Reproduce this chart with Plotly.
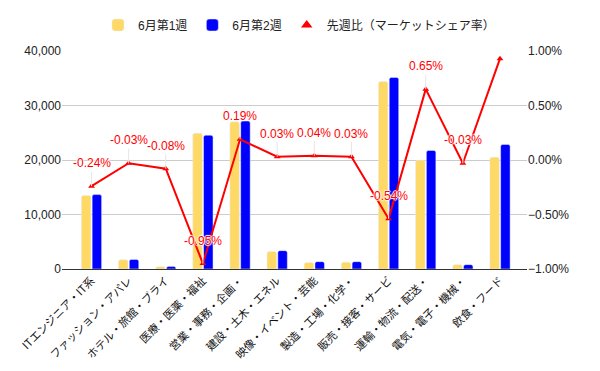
import plotly.graph_objects as go

categories = ["ITエンジニア・IT系", "ファッション・アパレ", "ホテル・旅館・ブライ", "医療・医薬・福祉",
              "営業・事務・企画・", "建設・土木・エネル", "映像・イベント・芸能", "製造・工場・化学・",
              "販売・接客・サービ", "運輸・物流・配送・", "電気・電子・機械・", "飲食・フード"]
week1 = [13500, 1700, 430, 24900, 27000, 3200, 1170, 1230, 34400, 19950, 800, 20500]
week2 = [13650, 1750, 480, 24550, 27150, 3370, 1350, 1350, 35150, 21750, 800, 22850]
share_change = [-0.24, -0.03, -0.08, -0.95, 0.19, 0.03, 0.04, 0.03, -0.54, 0.65, -0.03, 0.93]
label_shown = [True] * 11 + [False]

YELLOW = "#FFD966"
BLUE = "#0000FF"
RED = "#FF0000"
FONT = "Arial, Liberation Sans, Noto Sans CJK JP, sans-serif"
HALO = "1px 0 1px white, -1px 0 1px white, 0 1px 1px white, 0 -1px 1px white"

# page body adds an 8px margin; figure is sized/offset to compensate
W, H = 592, 363

fig = go.Figure()
fig.add_trace(go.Bar(x=categories, y=week1, name="6月第1週", marker_color=YELLOW, yaxis="y"))
fig.add_trace(go.Bar(x=categories, y=week2, name="6月第2週", marker_color=BLUE, yaxis="y"))
fig.add_trace(go.Scatter(x=categories, y=[v / 100 for v in share_change], yaxis="y2",
                         mode="lines+markers", line=dict(color=RED, width=2),
                         marker=dict(symbol="triangle-up", size=6, color=RED),
                         name="先週比（マーケットシェア率）", showlegend=False))
fig.add_trace(go.Scatter(x=[categories[0]], y=[None], yaxis="y2", mode="markers",
                         marker=dict(symbol="triangle-up", size=10, color=RED),
                         name="先週比（マーケットシェア率）"))

for c, v, s in zip(categories, share_change, label_shown):
    if not s:
        continue
    fig.add_annotation(x=c, y=v / 100, xref="x", yref="y2", text=f"{v:.2f}%",
                       showarrow=True, arrowhead=0, arrowwidth=1, arrowcolor="#e6e6e6",
                       ax=0, ay=-23, font=dict(color=RED, size=12, family=FONT, shadow=HALO),
                       bgcolor="rgba(255,255,255,0)")

fig.update_layout(
    width=W, height=H,
    margin=dict(l=54, r=73, t=43, b=102, autoexpand=False),
    paper_bgcolor="white", plot_bgcolor="white",
    font=dict(family=FONT, size=12, color="#222"),
    barmode="group", bargap=0.42, bargroupgap=0.12, barcornerradius=2,
    legend=dict(orientation="h", x=291 / W, xanchor="center", xref="container",
                y=1 - 17 / H, yanchor="middle", yref="container",
                font=dict(size=12, color="#222"), traceorder="normal"),
    xaxis=dict(tickangle=-45, tickfont=dict(size=11, color="#111",
                                            family="Noto Sans CJK JP, sans-serif"),
               showgrid=False, showline=True, linecolor="#333", linewidth=1, ticks="",
               automargin=False),
    yaxis=dict(range=[0, 40000], dtick=10000, tickformat=",", gridcolor="#cccccc",
               zeroline=False, showline=False, ticks="", automargin=False,
               tickfont=dict(size=12, color="#222")),
    yaxis2=dict(range=[-0.01, 0.01], dtick=0.005, tickformat=".2%", overlaying="y",
                side="right", showgrid=False, zeroline=False, ticks="", automargin=False,
                tickfont=dict(size=12, color="#222")),
)

fig.write_html("out.html")
